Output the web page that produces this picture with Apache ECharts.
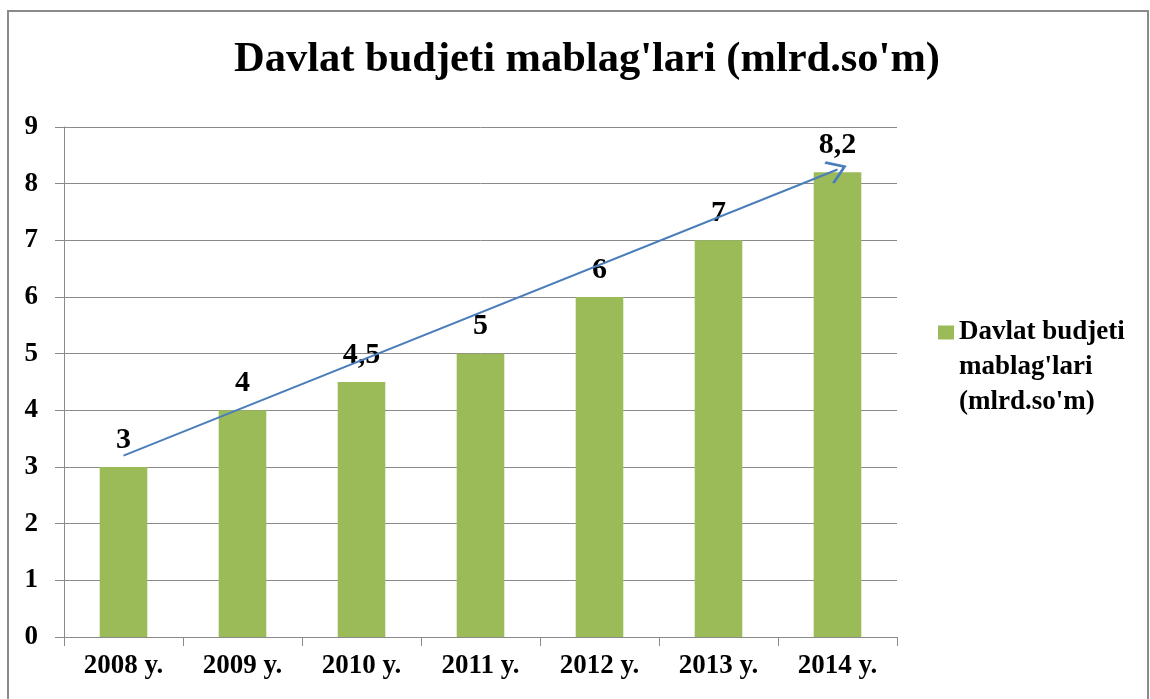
<!DOCTYPE html>
<html>
<head>
<meta charset="utf-8">
<script src="https://cdn.jsdelivr.net/npm/echarts@6/dist/echarts.min.js"></script>
<style>
  html, body { margin: 0; padding: 0; background: #fff; }
  #chart { width: 1150px; height: 699px; }
</style>
</head>
<body>
<div id="chart"></div>
<script>
const years = ['2008 y.', '2009 y.', '2010 y.', '2011 y.', '2012 y.', '2013 y.', '2014 y.'];
const budget = [3, 4, 4.5, 5, 6, 7, 8.2];
const seriesName = "Davlat budjeti mablag'lari (mlrd.so'm)";
// trend arrow drawn by hand in the original
const arrowStart = ['2008 y.', 3.2];
const arrowEnd = ['2014 y.', 8.25];

const font = '"Liberation Serif", "Times New Roman", serif';
let myChart = echarts.init(document.getElementById('chart'));
myChart.setOption({
  animation: false,
  title: {
    text: seriesName,
    left: 582,
    textAlign: 'center',
    top: 34,
    textStyle: { fontFamily: font, fontWeight: 'bold', fontSize: 42.5, color: '#000' }
  },
  graphic: [{
    type: 'rect',
    shape: { x: 8, y: 11, width: 1140, height: 720 },
    style: { fill: 'none', stroke: '#8a8a8a', lineWidth: 2 },
    silent: true
  }],
  legend: {
    left: 933,
    top: 240,
    orient: 'vertical',
    itemWidth: 16,
    itemHeight: 14,
    // two blank lines first so the marker sits beside the first line
    formatter: () => "\n\nDavlat budjeti\nmablag'lari\n(mlrd.so'm)",
    textStyle: {
      fontFamily: font, fontWeight: 'bold', fontSize: 27, color: '#000',
      lineHeight: 35
    },
    data: [{ name: seriesName, icon: 'rect' }]
  },
  grid: { left: 64, right: 253, top: 127, bottom: 62 },
  xAxis: {
    type: 'category',
    data: years,
    axisLine: { lineStyle: { color: '#8a8a8a', width: 1 } },
    axisTick: { show: true, length: 9, lineStyle: { color: '#8a8a8a' } },
    axisLabel: { fontFamily: font, fontWeight: 'bold', fontSize: 27, color: '#000', margin: 16 }
  },
  yAxis: {
    type: 'value',
    min: 0,
    max: 9,
    interval: 1,
    axisLine: { show: true, lineStyle: { color: '#8a8a8a', width: 1 } },
    axisTick: { show: true, length: 9, lineStyle: { color: '#8a8a8a' } },
    splitLine: { lineStyle: { color: '#8a8a8a', width: 1 } },
    axisLabel: { fontFamily: font, fontWeight: 'bold', fontSize: 27, color: '#000', margin: 26 }
  },
  series: [{
    name: seriesName,
    type: 'bar',
    data: budget,
    barWidth: '40%',
    itemStyle: { color: '#9bbb59' },
    label: {
      show: true,
      position: 'top',
      distance: 12,
      fontFamily: font, fontWeight: 'bold', fontSize: 30, color: '#000',
      formatter: p => String(p.value).replace('.', ',')
    },
    markLine: {
      silent: true,
      symbol: ['none', 'path://M0,0 L10,11 L8.6,12.4 L0,3 L-8.6,12.4 L-10,11 Z'],
      symbolSize: [24, 20],
      label: { show: false },
      lineStyle: { color: '#4a7ebb', width: 2, type: 'solid' },
      data: [[{ coord: arrowStart }, { coord: arrowEnd }]]
    }
  }]
});
</script>
</body>
</html>
